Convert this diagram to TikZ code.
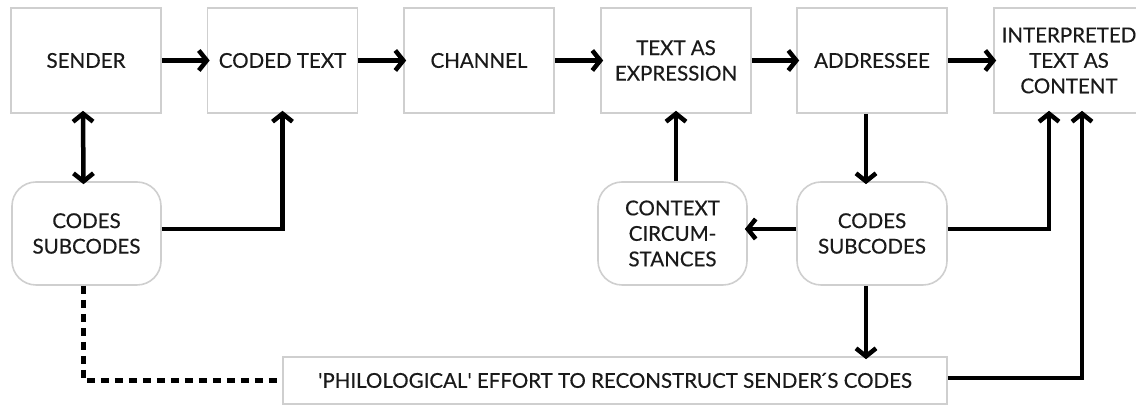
\documentclass[tikz,border=0pt]{standalone}
\usepackage{fontspec}
\setmainfont{Lato}[FakeBold=0.4]
\usetikzlibrary{arrows.meta}
\definecolor{boxgray}{HTML}{CFCFCF}
\definecolor{textcol}{HTML}{1A1A1A}
\begin{document}
\begin{tikzpicture}[x=1pt,y=1pt,
  box/.style={draw=boxgray, line width=1.6pt, fill=white, minimum width=150pt, minimum height=105pt, inner sep=0pt, align=center, text=textcol, font=\fontsize{20.5}{25.5}\selectfont},
  rbox/.style={box, rounded corners=24pt, minimum height=103pt, minimum width=149pt},
  wbox/.style={box, minimum width=664pt, minimum height=47pt},
  conn/.style={line width=4.5pt, draw=black, -{Straight Barb[length=8pt,width=20pt]}, shorten >=-3pt},
  dconn/.style={line width=4.5pt, draw=black, {Straight Barb[length=8pt,width=20pt]}-{Straight Barb[length=8pt,width=20pt]}, shorten >=-3pt, shorten <=-3pt},
  dashline/.style={line width=4.5pt, draw=black, dash pattern=on 8pt off 6pt}
]
\useasboundingbox (0,0) rectangle (1136,406);
\node[box] (sender) at (86,345.5) {SENDER};
\node[box] (coded) at (282.5,345.5) {CODED TEXT};
\node[box] (channel) at (479,345.5) {CHANNEL};
\node[box] (expr) at (676,345.5) {TEXT AS\\EXPRESSION};
\node[box] (addr) at (872,345.5) {ADDRESSEE};
\node[box] (interp) at (1069,345.5) {INTERPRETED\\TEXT AS\\CONTENT};
\node[rbox] (codesL) at (86.5,172.5) {CODES\\SUBCODES};
\node[rbox] (context) at (672.5,172.5) {CONTEXT\\CIRCUM-\\STANCES};
\node[rbox, minimum width=150pt] (codesR) at (872,172.5) {CODES\\SUBCODES};
\node[wbox] (philo) at (615,25.5) {\textquotesingle PHILOLOGICAL\textquotesingle{} EFFORT TO RECONSTRUCT SENDER\'{}S CODES};

\draw[conn] (sender.east) -- (coded.west);
\draw[conn] (coded.east) -- (channel.west);
\draw[conn] (channel.east) -- (expr.west);
\draw[conn] (expr.east) -- (addr.west);
\draw[conn] (addr.east) -- (interp.west);

\draw[dconn] ([xshift=-3pt]sender.south) -- ([xshift=-3pt]codesL.north);
\draw[conn] ([yshift=4.5pt]codesL.east) -| (coded.south);
\draw[conn] (expr.south |- context.north) -- (expr.south);
\draw[conn] ([xshift=-6pt]addr.south) -- ([xshift=-6pt]codesR.north);
\draw[conn] ([yshift=4.5pt]codesR.west) -- ([yshift=4.5pt]context.east);
\draw[conn] ([yshift=4.5pt]codesR.east) -| ([xshift=-20pt]interp.south);
\draw[conn] ([xshift=-6pt]codesR.south) -- ([xshift=-6pt]codesR.south |- philo.north);
\draw[conn] ([yshift=2.5pt]philo.east) -| ([xshift=13pt]interp.south);
\draw[dashline] ([xshift=-3pt]codesL.south) |- (philo.west);
\end{tikzpicture}
\end{document}
